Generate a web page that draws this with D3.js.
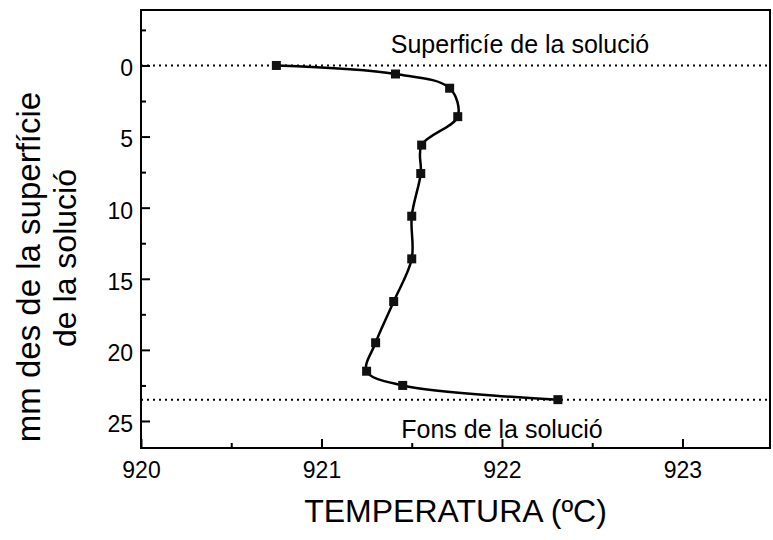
<!DOCTYPE html>
<html>
<head>
<meta charset="utf-8">
<script src="https://cdn.jsdelivr.net/npm/d3@7"></script>
<style>
    body { margin: 0; background: #fff; }
    svg text { font-family: "Liberation Sans", Arial, sans-serif; fill: #000; }
</style>
</head>
<body>
<div id="chart"></div>
<script>
// temperature profile
const temperature = [920.75, 921.41, 921.71, 921.755, 921.555, 921.55, 921.5, 921.5, 921.4, 921.3, 921.25, 921.45, 922.31];
const depth = [0, 0.6, 1.6, 3.6, 5.6, 7.6, 10.6, 13.6, 16.6, 19.5, 21.5, 22.5, 23.5];

const xMajorTicks = [920, 921, 922, 923];
const xMinorTicks = [920.5, 921.5, 922.5];
const yMajorTicks = [0, 5, 10, 15, 20, 25];
const yMinorTicks = [-2.5, 2.5, 7.5, 12.5, 17.5, 22.5];

const surfaceDepth = 0;
const bottomDepth = 23.5;

const width = 773, height = 540;
const margin = { top: 10, right: 3, bottom: 92, left: 141 };
const innerW = width - margin.left - margin.right;
const innerH = height - margin.top - margin.bottom;

const svg = d3.select("#chart")
    .append("svg")
    .attr("width", width)
    .attr("height", height);

const g = svg.append("g")
    .attr("transform", `translate(${margin.left}, ${margin.top})`);

const xScale = d3.scaleLinear()
    .domain([920, 923.485])
    .range([0, innerW]);

const yScale = d3.scaleLinear()
    .domain([-3.9, 26.9])
    .range([0, innerH]);

// axes, ticks pointing inward
g.append("g")
    .attr("transform", `translate(0, ${innerH})`)
    .call(d3.axisBottom(xScale).tickValues(xMinorTicks).tickSize(-5).tickFormat(""))
    .call(a => a.select(".domain").remove());

g.append("g")
    .attr("transform", `translate(0, ${innerH})`)
    .call(d3.axisBottom(xScale).tickValues(xMajorTicks).tickSize(-9).tickPadding(14).tickFormat(d3.format("d")))
    .call(a => a.select(".domain").remove())
    .call(a => a.selectAll("text").style("font-size", "23px"));

g.append("g")
    .call(d3.axisLeft(yScale).tickValues(yMinorTicks).tickSize(-5).tickFormat(""))
    .call(a => a.select(".domain").remove());

g.append("g")
    .call(d3.axisLeft(yScale).tickValues(yMajorTicks).tickSize(-9).tickPadding(8))
    .call(a => a.select(".domain").remove())
    .call(a => a.selectAll("text").style("font-size", "23px").attr("dy", "0.45em"));

g.selectAll(".tick line")
    .attr("stroke", "#000")
    .attr("stroke-width", 2);

// frame
g.append("rect")
    .attr("width", innerW)
    .attr("height", innerH)
    .attr("fill", "none")
    .attr("stroke", "#000")
    .attr("stroke-width", 2);

// surface / bottom reference lines
g.selectAll(".ref")
    .data([surfaceDepth, bottomDepth])
    .enter()
    .append("line")
    .attr("x1", 0)
    .attr("x2", innerW)
    .attr("y1", d => yScale(d))
    .attr("y2", d => yScale(d))
    .attr("stroke", "#000")
    .attr("stroke-width", 2)
    .attr("stroke-dasharray", "2,4");

const points = temperature.map((t, i) => ({ t: t, d: depth[i] }));

const line = d3.line()
    .x(d => xScale(d.t))
    .y(d => yScale(d.d))
    .curve(d3.curveCatmullRom.alpha(0.5));

g.append("path")
    .datum(points)
    .attr("d", line)
    .attr("fill", "none")
    .attr("stroke", "#000")
    .attr("stroke-width", 2.5);

g.selectAll(".pt")
    .data(points)
    .enter()
    .append("rect")
    .attr("x", d => xScale(d.t) - 4.5)
    .attr("y", d => yScale(d.d) - 4.5)
    .attr("width", 9)
    .attr("height", 9)
    .attr("fill", "#111");

// annotations
svg.append("text")
    .attr("x", 520)
    .attr("y", 53)
    .attr("text-anchor", "middle")
    .style("font-size", "25px")
    .text("Superficíe de la solució");

svg.append("text")
    .attr("x", 502)
    .attr("y", 438)
    .attr("text-anchor", "middle")
    .style("font-size", "25px")
    .text("Fons de la solució");

// axis titles
svg.append("text")
    .attr("x", margin.left + innerW / 2)
    .attr("y", 522)
    .attr("text-anchor", "middle")
    .style("font-size", "32px")
    .text("TEMPERATURA (ºC)");

svg.append("text")
    .attr("transform", "translate(40, 267) rotate(-90)")
    .attr("text-anchor", "middle")
    .style("font-size", "33px")
    .text("mm des de la superfície");

svg.append("text")
    .attr("transform", "translate(76, 258) rotate(-90)")
    .attr("text-anchor", "middle")
    .style("font-size", "32px")
    .text("de la solució");
</script>
</body>
</html>
